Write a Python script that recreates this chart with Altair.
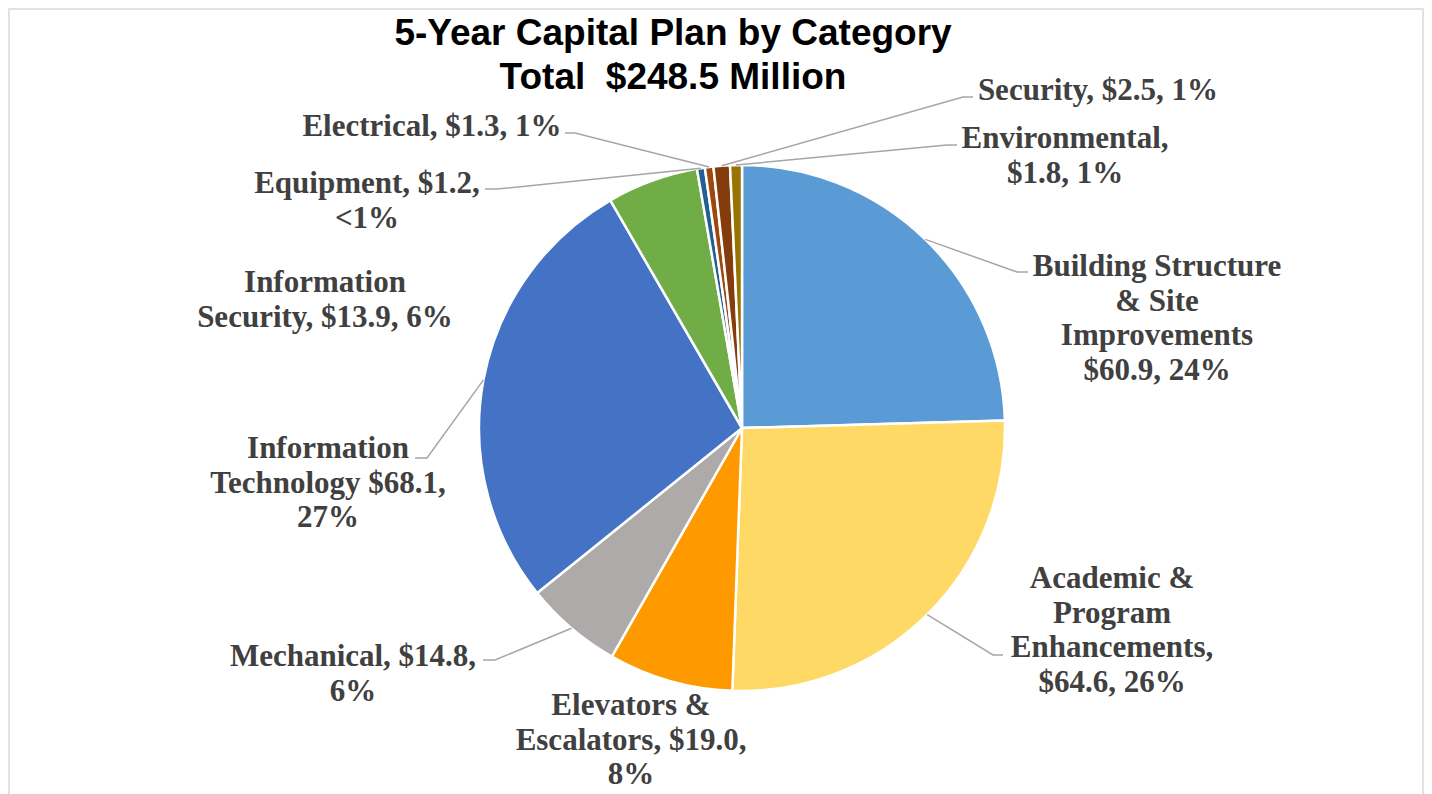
import math
import altair as alt
import pandas as pd

# ---------------- data ----------------
categories = [
    "Building Structure & Site Improvements",
    "Academic & Program Enhancements",
    "Elevators & Escalators",
    "Mechanical",
    "Information Technology",
    "Information Security",
    "Equipment",
    "Electrical",
    "Security",
    "Environmental",
]
values = [60.9, 64.6, 19.0, 14.8, 68.1, 13.9, 1.2, 1.3, 2.5, 1.8]
label_lines = [
    ["Building Structure", "& Site", "Improvements", "$60.9, 24%"],
    ["Academic &", "Program", "Enhancements,", "$64.6, 26%"],
    ["Elevators &", "Escalators, $19.0,", "8%"],
    ["Mechanical, $14.8,", "6%"],
    ["Information", "Technology $68.1,", "27%"],
    ["Information", "Security, $13.9, 6%"],
    ["Equipment, $1.2,", "<1%"],
    ["Electrical, $1.3, 1%"],
    ["Security, $2.5, 1%"],
    ["Environmental,", "$1.8, 1%"],
]
title_lines = ["5-Year Capital Plan by Category", "Total\u00a0 $248.5 Million"]

# ---------------- style / layout ----------------
colors = ["#5B9BD5", "#FFD966", "#FF9900", "#AEAAAA", "#4472C4",
          "#70AD47", "#255E91", "#9E480E", "#843C0C", "#997300"]
OFF = 8                      # page margin
CX, CY, R = 742, 428, 263    # pie centre / radius (page coords)
LH = 34.5                    # label line height
# label centre x and first-line baseline (page coords)
label_pos = {
    0: (1157, 276), 1: (1112, 588), 2: (631, 715), 3: (353, 666),
    4: (328, 458), 5: (325, 292), 6: (367, 193), 7: (432, 136),
    8: (1098, 100), 9: (1065, 148),
}
# leader elbow and end points next to the labels (page coords)
leader_pts = {
    0: [(1017, 272), (1028, 272)],
    1: [(993, 655), (1003, 655)],
    3: [(495, 660), (483, 660)],
    4: [(427, 458), (415, 458)],
    6: [(497, 189), (485, 189)],
    7: [(575, 133), (565, 133)],
    8: [(963, 97), (973, 97)],
    9: [(947, 145), (957, 145)],
}
W, H = 1416, 786

# ---------------- tables ----------------
pie_df = pd.DataFrame({"cat": categories, "value": values, "idx": range(len(values))})

total = sum(values)
mids = []
cum = 0.0
for v in values:
    mids.append((cum + v / 2) / total * 2 * math.pi)
    cum += v

lead_rows = []
for i, pts in leader_pts.items():
    a = mids[i]
    sx, sy = CX + R * math.sin(a), CY - R * math.cos(a)
    lead_rows.append({"cat": categories[i], "k": 0, "x": sx - OFF, "y": sy - OFF})
    for k, (px, py) in enumerate(pts, start=1):
        lead_rows.append({"cat": categories[i], "k": k, "x": px - OFF, "y": py - OFF})
lead_df = pd.DataFrame(lead_rows)

lab_rows = []
for i, lines in enumerate(label_lines):
    lx, ly = label_pos[i]
    for j, t in enumerate(lines):
        lab_rows.append({"t": t, "x": lx - OFF, "y": ly - OFF + j * LH})
lab_df = pd.DataFrame(lab_rows)

title_df = pd.DataFrame({"t": title_lines,
                         "x": [673 - OFF, 673 - OFF],
                         "y": [45 - OFF, 89 - OFF]})

X = lambda: alt.X("x:Q", scale=None, axis=None)
Y = lambda: alt.Y("y:Q", scale=None, axis=None)

frame = alt.Chart(pd.DataFrame({"a": [0]})).mark_rect(
    fillOpacity=0, stroke="#D9D9D9", strokeWidth=1.5
).encode(x=alt.value(1), x2=alt.value(W - 1), y=alt.value(1), y2=alt.value(H + 40))

pie = alt.Chart(pie_df).mark_arc(outerRadius=R, stroke="white", strokeWidth=2.5).encode(
    theta=alt.Theta("value:Q", stack=True),
    color=alt.Color("cat:N", scale=alt.Scale(domain=categories, range=colors), legend=None),
    order=alt.Order("idx:Q"),
    x=alt.value(CX - OFF),
    y=alt.value(CY - OFF),
)

leaders = alt.Chart(lead_df).mark_line(color="#A6A6A6", strokeWidth=1.5).encode(
    x=X(), y=Y(), detail="cat:N", order="k:Q"
)

labels = alt.Chart(lab_df).mark_text(
    font="Liberation Serif", fontWeight="bold", fontSize=31, color="#404040",
    align="center", baseline="alphabetic"
).encode(x=X(), y=Y(), text="t:N")

titles = alt.Chart(title_df).mark_text(
    font="Liberation Sans", fontWeight="bold", fontSize=37, color="#000000",
    align="center", baseline="alphabetic"
).encode(x=X(), y=Y(), text="t:N")

chart = alt.layer(frame, pie, leaders, labels, titles).properties(
    width=W, height=H, autosize="none", padding=0
).configure_view(strokeWidth=0)

chart.save("out.html", embed_options={"renderer": "svg", "actions": False})
